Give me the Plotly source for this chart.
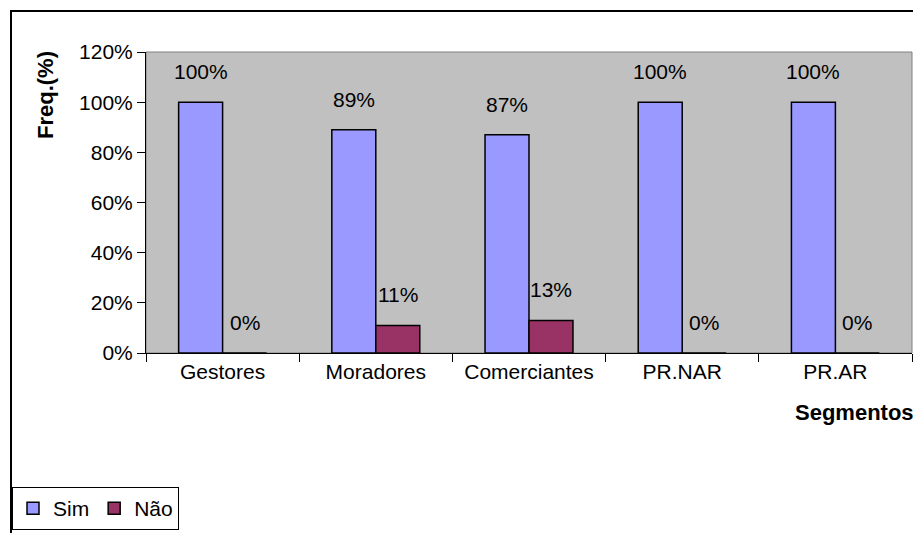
import plotly.graph_objects as go

segmentos = ['Gestores', 'Moradores', 'Comerciantes', 'PR.NAR', 'PR.AR']
sim = [1.00, 0.89, 0.87, 1.00, 1.00]
nao = [0.00, 0.11, 0.13, 0.00, 0.00]
y_ticks = [0, 0.2, 0.4, 0.6, 0.8, 1.0, 1.2]

FONT = 'Liberation Sans, Arial, sans-serif'
W, H = 913, 533
L, R, T, B = 146, 1, 52, 180
pw, ph = W - L - R, H - T - B

fig = go.Figure()
fig.add_trace(go.Bar(x=segmentos, y=sim, name='Sim',
                     marker=dict(color='#9999FF', line=dict(color='black', width=1.5))))
fig.add_trace(go.Bar(x=segmentos, y=nao, name='Não',
                     marker=dict(color='#993366', line=dict(color='black', width=1.5))))

# data labels, Excel style (placed above each bar)
half = 22
for vals, shift in [(sim, -half), (nao, half)]:
    for cat, v in zip(segmentos, vals):
        fig.add_annotation(x=cat, y=v, xref='x', yref='y', text=f'{round(v*100)}%',
                           showarrow=False, xshift=shift, yshift=17, yanchor='bottom',
                           font=dict(family=FONT, size=21, color='black'))

# axis titles
fig.add_annotation(text='<b>Freq.(%)</b>', textangle=-90, showarrow=False,
                   xref='paper', yref='paper', x=(45 - L) / pw, y=(H - B - 95) / ph,
                   xanchor='center', yanchor='middle', font=dict(family=FONT, size=22, color='black'))
fig.add_annotation(text='<b>Segmentos</b>', showarrow=False,
                   xref='paper', yref='paper', x=(793 - L) / pw, y=(H - B - 412) / ph,
                   xanchor='left', yanchor='middle', font=dict(family=FONT, size=22, color='black'))

# plot area border and outer chart border
fig.add_shape(type='rect', xref='paper', yref='paper', x0=0, x1=1, y0=0, y1=1,
              line=dict(color='#808080', width=1), layer='below')
fig.add_shape(type='rect', xref='paper', yref='paper',
              x0=(11 - L) / pw, x1=1.2, y0=-1, y1=(H - B - 11) / ph,
              line=dict(color='black', width=2))

fig.update_layout(
    width=W, height=H,
    margin=dict(l=L, r=R, t=T, b=B, pad=0),
    paper_bgcolor='white', plot_bgcolor='#C0C0C0',
    barmode='group', bargap=0.426, bargroupgap=0,
    font=dict(family=FONT, size=21, color='black'),
    showlegend=True,
    legend=dict(orientation='h', x=(12 - L) / pw, y=(H - B - 487) / ph,
                xanchor='left', yanchor='top', bgcolor='white',
                bordercolor='black', borderwidth=1,
                font=dict(family=FONT, size=21, color='black'),
                itemwidth=30, tracegroupgap=0),
    xaxis=dict(showgrid=False, showline=True, linecolor='black', linewidth=1,
               ticks='outside', ticklen=8, tickcolor='black', tickson='boundaries',
               tickfont=dict(family=FONT, size=21), zeroline=False),
    yaxis=dict(range=[0, 1.2], tickvals=y_ticks, tickformat='.0%', showgrid=False,
               showline=True, linecolor='black', linewidth=1,
               ticks='outside', ticklen=8, tickcolor='black',
               tickfont=dict(family=FONT, size=21), zeroline=False),
)

fig.write_html('out.html', config={'displayModeBar': False},
               post_script="document.body.style.margin='0';")
